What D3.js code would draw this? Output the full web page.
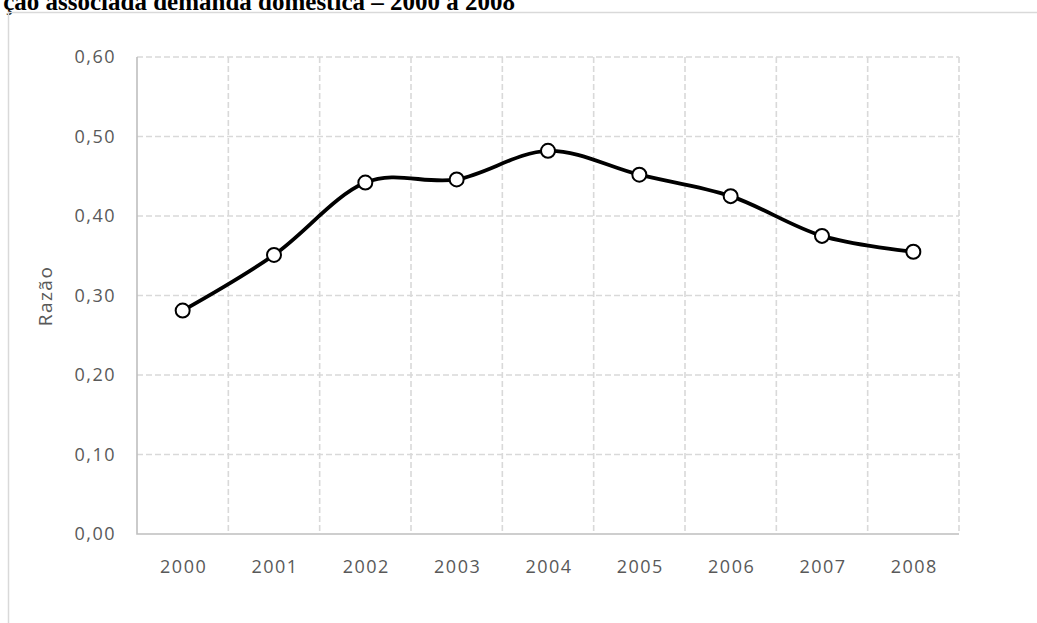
<!DOCTYPE html>
<html>
<head>
<meta charset="utf-8">
<script src="https://cdn.jsdelivr.net/npm/d3@7"></script>
<style>
  body { margin: 0; background: #fff; }
  svg { display: block; }
</style>
</head>
<body>
<div id="chart"></div>
<script>
// values
var years = ["2000", "2001", "2002", "2003", "2004", "2005", "2006", "2007", "2008"];
var razao = [0.281, 0.351, 0.442, 0.446, 0.482, 0.452, 0.425, 0.375, 0.355];
var yTicks = [0, 0.1, 0.2, 0.3, 0.4, 0.5, 0.6];

var W = 1037, H = 623;
var plot = {left: 137, right: 959, top: 57, bottom: 534};
var grey = "#595959";
var font = "'Open Sans', 'DejaVu Sans', sans-serif";

var svg = d3.select("#chart").append("svg")
  .attr("width", W)
  .attr("height", H);

// title (cut at the top of the page, as in the source)
svg.append("text")
  .attr("x", 515)
  .attr("y", 10)
  .attr("text-anchor", "end")
  .style("font-family", "'Liberation Serif', 'Times New Roman', serif")
  .style("font-weight", "bold")
  .style("font-size", "25px")
  .text("ção associada demanda doméstica – 2000 a 2008");

// chart frame
svg.append("path")
  .attr("d", "M8.5," + H + "V12.5H" + W)
  .attr("fill", "none")
  .attr("stroke", "#d9d9d9")
  .attr("stroke-width", 1.5);

var x = d3.scaleBand()
  .domain(years)
  .range([plot.left, plot.right]);

var y = d3.scaleLinear()
  .domain([0, 0.6])
  .range([plot.bottom, plot.top]);

var fmt = function (d) { return d3.format(".2f")(d).replace(".", ","); };

// horizontal grid
svg.append("g")
  .selectAll("line")
  .data(yTicks.slice(1))
  .join("line")
  .attr("x1", plot.left)
  .attr("x2", plot.right)
  .attr("y1", d => y(d))
  .attr("y2", d => y(d))
  .attr("stroke", "#d9d9d9")
  .attr("stroke-width", 1.6)
  .attr("stroke-dasharray", "6,3");

// vertical grid at category boundaries
var bounds = years.slice(1).map(d => x(d)).concat([plot.right]);
svg.append("g")
  .selectAll("line")
  .data(bounds)
  .join("line")
  .attr("x1", d => d)
  .attr("x2", d => d)
  .attr("y1", plot.top)
  .attr("y2", plot.bottom)
  .attr("stroke", "#d9d9d9")
  .attr("stroke-width", 1.6)
  .attr("stroke-dasharray", "6,3");

// axes lines
svg.append("path")
  .attr("d", "M" + plot.left + "," + plot.top + "V" + plot.bottom + "H" + plot.right)
  .attr("fill", "none")
  .attr("stroke", "#bfbfbf")
  .attr("stroke-width", 1.6);

// y tick labels
svg.append("g")
  .selectAll("text")
  .data(yTicks)
  .join("text")
  .attr("x", plot.left - 21)
  .attr("y", d => y(d))
  .attr("dy", "0.35em")
  .attr("text-anchor", "end")
  .attr("fill", grey)
  .style("font-family", font)
  .style("font-size", "18px")
  .style("letter-spacing", "1.5px")
  .text(fmt);

// x tick labels
svg.append("g")
  .selectAll("text")
  .data(years)
  .join("text")
  .attr("x", d => x(d) + x.bandwidth() / 2 + 1)
  .attr("y", 573)
  .attr("text-anchor", "middle")
  .attr("fill", grey)
  .style("font-family", font)
  .style("font-size", "18px")
  .style("letter-spacing", "1.5px")
  .text(d => d);

// y axis title
svg.append("text")
  .attr("transform", "translate(52,296) rotate(-90)")
  .attr("text-anchor", "middle")
  .attr("fill", grey)
  .style("font-family", font)
  .style("font-size", "19px")
  .style("letter-spacing", "1.5px")
  .text("Razão");

// smoothed line
var line = d3.line()
  .x((d, i) => x(years[i]) + x.bandwidth() / 2)
  .y(d => y(d))
  .curve(d3.curveCatmullRom.alpha(0));

svg.append("path")
  .datum(razao)
  .attr("d", line)
  .attr("fill", "none")
  .attr("stroke", "#000")
  .attr("stroke-width", 3.8)
  .attr("stroke-linejoin", "round");

// markers
svg.append("g")
  .selectAll("circle")
  .data(razao)
  .join("circle")
  .attr("cx", (d, i) => x(years[i]) + x.bandwidth() / 2)
  .attr("cy", d => y(d))
  .attr("r", 7)
  .attr("fill", "#fff")
  .attr("stroke", "#000")
  .attr("stroke-width", 2);
</script>
</body>
</html>
